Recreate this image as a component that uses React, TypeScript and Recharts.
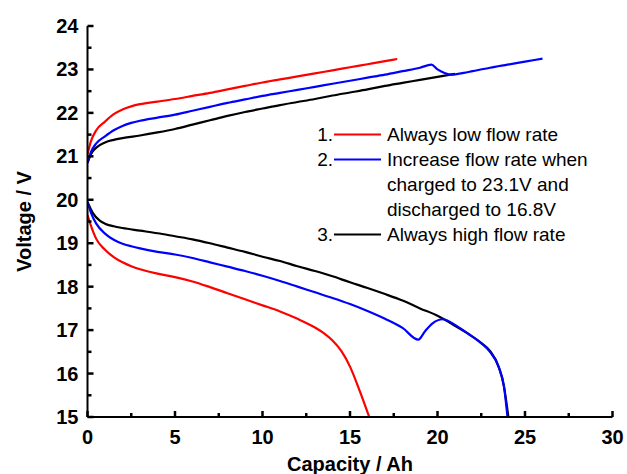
import React from 'react';
import { LineChart, Line, XAxis, YAxis } from 'recharts';

// capacity (Ah) / voltage (V)
const redCharge = [
  { q: 0, v: 21.05 }, { q: 0.2, v: 21.35 }, { q: 0.5, v: 21.6 }, { q: 1, v: 21.8 },
  { q: 1.5, v: 21.97 }, { q: 2, v: 22.08 }, { q: 2.5, v: 22.15 }, { q: 3, v: 22.2 },
  { q: 4, v: 22.26 }, { q: 5, v: 22.32 }, { q: 6, v: 22.39 }, { q: 7, v: 22.46 },
  { q: 8, v: 22.54 }, { q: 9, v: 22.62 }, { q: 10, v: 22.7 }, { q: 11, v: 22.77 },
  { q: 12, v: 22.84 }, { q: 13, v: 22.91 }, { q: 14, v: 22.98 }, { q: 15, v: 23.05 },
  { q: 16, v: 23.12 }, { q: 17, v: 23.19 }, { q: 17.7, v: 23.24 },
];

const blueCharge = [
  { q: 0, v: 20.85 }, { q: 0.2, v: 21.1 }, { q: 0.5, v: 21.3 }, { q: 1, v: 21.46 },
  { q: 1.5, v: 21.6 }, { q: 2, v: 21.7 }, { q: 2.5, v: 21.77 }, { q: 3, v: 21.82 },
  { q: 4, v: 21.89 }, { q: 5, v: 21.96 }, { q: 6, v: 22.05 }, { q: 7, v: 22.14 },
  { q: 8, v: 22.23 }, { q: 9, v: 22.31 }, { q: 10, v: 22.39 }, { q: 11, v: 22.46 },
  { q: 12, v: 22.53 }, { q: 13, v: 22.6 }, { q: 14, v: 22.67 }, { q: 15, v: 22.74 },
  { q: 16, v: 22.81 }, { q: 17, v: 22.88 }, { q: 18, v: 22.96 }, { q: 19, v: 23.04 },
  { q: 19.65, v: 23.11 }, { q: 20, v: 23.0 }, { q: 20.4, v: 22.92 }, { q: 20.8, v: 22.88 },
  { q: 21.5, v: 22.92 }, { q: 22, v: 22.96 }, { q: 23, v: 23.04 }, { q: 24, v: 23.11 },
  { q: 25, v: 23.18 }, { q: 26, v: 23.25 },
];

const blackCharge = [
  { q: 0, v: 20.85 }, { q: 0.2, v: 21.05 }, { q: 0.5, v: 21.2 }, { q: 1, v: 21.32 },
  { q: 1.5, v: 21.38 }, { q: 2, v: 21.42 }, { q: 3, v: 21.48 }, { q: 4, v: 21.55 },
  { q: 5, v: 21.63 }, { q: 6, v: 21.73 }, { q: 7, v: 21.83 }, { q: 8, v: 21.93 },
  { q: 9, v: 22.02 }, { q: 10, v: 22.1 }, { q: 11, v: 22.18 }, { q: 12, v: 22.25 },
  { q: 13, v: 22.32 }, { q: 14, v: 22.4 }, { q: 15, v: 22.47 }, { q: 16, v: 22.54 },
  { q: 17, v: 22.62 }, { q: 18, v: 22.69 }, { q: 19, v: 22.76 }, { q: 20, v: 22.83 },
  { q: 21, v: 22.9 },
];

const redDischarge = [
  { q: 0, v: 19.65 }, { q: 0.2, v: 19.4 }, { q: 0.5, v: 19.1 }, { q: 1, v: 18.85 },
  { q: 1.5, v: 18.68 }, { q: 2, v: 18.56 }, { q: 2.5, v: 18.47 }, { q: 3, v: 18.4 },
  { q: 4, v: 18.3 }, { q: 5, v: 18.22 }, { q: 6, v: 18.12 }, { q: 7, v: 17.99 },
  { q: 8, v: 17.85 }, { q: 9, v: 17.71 }, { q: 10, v: 17.57 }, { q: 11, v: 17.43 },
  { q: 12, v: 17.26 }, { q: 13, v: 17.06 }, { q: 13.5, v: 16.93 }, { q: 14, v: 16.76 },
  { q: 14.5, v: 16.52 }, { q: 15, v: 16.16 }, { q: 15.5, v: 15.66 }, { q: 16.1, v: 15.0 },
];

const blueDischarge = [
  { q: 0, v: 19.95 }, { q: 0.2, v: 19.7 }, { q: 0.5, v: 19.45 }, { q: 1, v: 19.22 },
  { q: 1.5, v: 19.08 }, { q: 2, v: 18.99 }, { q: 2.5, v: 18.93 }, { q: 3, v: 18.88 },
  { q: 4, v: 18.8 }, { q: 5, v: 18.74 }, { q: 6, v: 18.66 }, { q: 7, v: 18.56 },
  { q: 8, v: 18.46 }, { q: 9, v: 18.36 }, { q: 10, v: 18.25 }, { q: 11, v: 18.13 },
  { q: 12, v: 18.0 }, { q: 13, v: 17.87 }, { q: 14, v: 17.74 }, { q: 15, v: 17.6 },
  { q: 16, v: 17.44 }, { q: 17, v: 17.26 }, { q: 18, v: 17.05 }, { q: 18.9, v: 16.78 },
  { q: 19.3, v: 16.98 }, { q: 19.7, v: 17.15 }, { q: 20.3, v: 17.25 }, { q: 21, v: 17.12 },
  { q: 21.7, v: 16.93 }, { q: 22.5, v: 16.7 }, { q: 23, v: 16.5 }, { q: 23.5, v: 16.15 },
  { q: 23.8, v: 15.7 }, { q: 24.0, v: 15.0 },
];

const blackDischarge = [
  { q: 0, v: 19.95 }, { q: 0.3, v: 19.7 }, { q: 0.7, v: 19.52 }, { q: 1, v: 19.45 },
  { q: 1.5, v: 19.39 }, { q: 2, v: 19.35 }, { q: 3, v: 19.29 }, { q: 4, v: 19.23 },
  { q: 5, v: 19.16 }, { q: 6, v: 19.09 }, { q: 7, v: 19.0 }, { q: 8, v: 18.9 },
  { q: 9, v: 18.8 }, { q: 10, v: 18.69 }, { q: 11, v: 18.59 }, { q: 12, v: 18.47 },
  { q: 13, v: 18.36 }, { q: 14, v: 18.24 }, { q: 15, v: 18.1 }, { q: 16, v: 17.97 },
  { q: 17, v: 17.83 }, { q: 18, v: 17.68 }, { q: 19, v: 17.5 }, { q: 20, v: 17.33 },
  { q: 20.5, v: 17.22 }, { q: 21, v: 17.1 }, { q: 21.7, v: 16.93 }, { q: 22.5, v: 16.7 },
  { q: 23, v: 16.52 }, { q: 23.5, v: 16.15 }, { q: 23.8, v: 15.7 }, { q: 24.05, v: 15.0 },
];

const xTicks = [0, 2.5, 5, 7.5, 10, 12.5, 15, 17.5, 20, 22.5, 25, 27.5, 30];
const xMajor = [0, 5, 10, 15, 20, 25, 30];
const yTicks = [15, 15.5, 16, 16.5, 17, 17.5, 18, 18.5, 19, 19.5, 20, 20.5, 21, 21.5, 22, 22.5, 23, 23.5, 24];
const yMajor = [15, 16, 17, 18, 19, 20, 21, 22, 23, 24];

const legendNums = ['1.', '2.', '3.'];
const legendColors = ['#ff0000', '#0000ff', '#000000'];
const legendText = [
  ['Always low flow rate'],
  ['Increase flow rate when', 'charged to 23.1V and', 'discharged to 16.8V'],
  ['Always high flow rate'],
];

const FONT = 'Arial, "Liberation Sans", sans-serif';

// ticks point into the plot; label sits below / left of the axis line
const XTick = (props: any) => {
  const { x, y, payload } = props;
  const major = xMajor.includes(payload.value);
  return (
    <g>
      <line x1={x} x2={x} y1={y} y2={y - (major ? 6 : 4)} stroke="#000" strokeWidth={2.5} />
      {major && (
        <text x={x} y={y + 27} textAnchor="middle" fontFamily={FONT} fontWeight="bold" fontSize={20} fill="#000">
          {payload.value}
        </text>
      )}
    </g>
  );
};

const YTick = (props: any) => {
  const { x, y, payload } = props;
  const major = yMajor.includes(payload.value);
  return (
    <g>
      <line x1={x} x2={x + (major ? 6 : 4)} y1={y} y2={y} stroke="#000" strokeWidth={2.5} />
      {major && (
        <text x={x - 9} y={y + 7} textAnchor="end" fontFamily={FONT} fontWeight="bold" fontSize={20} fill="#000">
          {payload.value}
        </text>
      )}
    </g>
  );
};

function LegendBox() {
  let row = 0;
  const items: React.ReactNode[] = [];
  legendNums.forEach((n, i) => {
    const base = 141 + row * 25;
    items.push(
      <g key={n}>
        <text x={333} y={base} textAnchor="end" fontFamily={FONT} fontSize={19} fill="#000">{n}</text>
        <line x1={334} x2={381} y1={base - 6.5} y2={base - 6.5} stroke={legendColors[i]} strokeWidth={2.2} />
        {legendText[i].map((t, j) => (
          <text key={t} x={387} y={base + j * 25} fontFamily={FONT} fontSize={19} fill="#000">{t}</text>
        ))}
      </g>
    );
    row += legendText[i].length;
  });
  return (
    <svg width={627} height={474} style={{ position: 'absolute', left: 0, top: 0, pointerEvents: 'none' }}>
      {items}
    </svg>
  );
}

const axisStroke = { stroke: '#000', strokeWidth: 2 };

export default function App() {
  return (
    <div style={{ position: 'absolute', left: 0, top: 0, width: 627, height: 474, background: '#fff' }}>
      <LineChart width={627} height={474} margin={{ top: 26, right: 14.5, left: 0, bottom: 0 }}>
        <XAxis
          type="number"
          dataKey="q"
          domain={[0, 30]}
          ticks={xTicks}
          interval={0}
          allowDataOverflow
          height={57}
          tickSize={0}
          tickMargin={0}
          tickLine={false}
          axisLine={axisStroke}
          tick={<XTick />}
          label={{ value: 'Capacity / Ah', position: 'insideBottom', offset: 3, style: { fontFamily: FONT, fontWeight: 'bold', fontSize: 20, fill: '#000' } }}
        />
        <XAxis xAxisId="top" orientation="top" type="number" domain={[0, 30]} height={0} tick={false} tickLine={false} axisLine={axisStroke} />
        <YAxis
          type="number"
          dataKey="v"
          domain={[15, 24]}
          ticks={yTicks}
          interval={0}
          allowDataOverflow
          width={87.5}
          tickSize={0}
          tickMargin={0}
          tickLine={false}
          axisLine={axisStroke}
          tick={<YTick />}
          label={{ value: 'Voltage / V', angle: -90, position: 'center', dx: -20, style: { fontFamily: FONT, fontWeight: 'bold', fontSize: 20, fill: '#000' } }}
        />
        <YAxis yAxisId="right" orientation="right" type="number" domain={[15, 24]} width={0} tick={false} tickLine={false} axisLine={axisStroke} />
        <Line data={blackCharge} dataKey="v" type="monotone" stroke="#000000" strokeWidth={2.2} dot={false} isAnimationActive={false} />
        <Line data={blackDischarge} dataKey="v" type="monotone" stroke="#000000" strokeWidth={2.2} dot={false} isAnimationActive={false} />
        <Line data={blueCharge} dataKey="v" type="monotone" stroke="#0000ff" strokeWidth={2.2} dot={false} isAnimationActive={false} />
        <Line data={blueDischarge} dataKey="v" type="monotone" stroke="#0000ff" strokeWidth={2.2} dot={false} isAnimationActive={false} />
        <Line data={redCharge} dataKey="v" type="monotone" stroke="#ff0000" strokeWidth={2.2} dot={false} isAnimationActive={false} />
        <Line data={redDischarge} dataKey="v" type="monotone" stroke="#ff0000" strokeWidth={2.2} dot={false} isAnimationActive={false} />
      </LineChart>
      <LegendBox />
    </div>
  );
}
